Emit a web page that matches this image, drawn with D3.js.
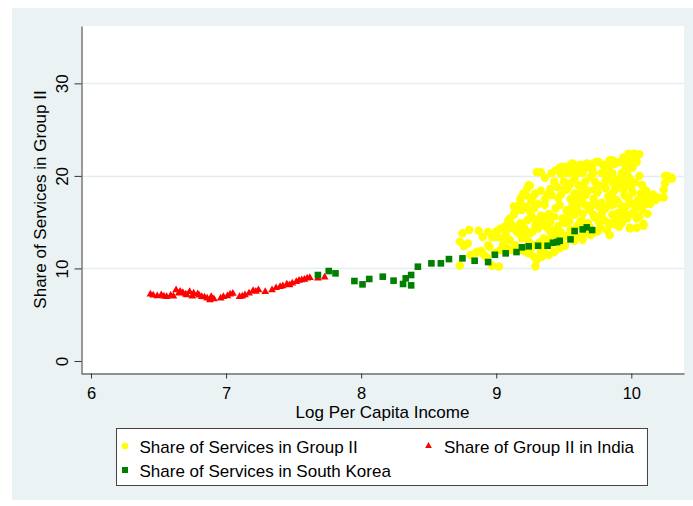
<!DOCTYPE html>
<html>
<head>
<meta charset="utf-8">
<script src="https://cdn.jsdelivr.net/npm/d3@7"></script>
<style>
  body { margin: 0; background: #fff; }
  text { font-family: "Liberation Sans", Arial, sans-serif; }
</style>
</head>
<body>
<div id="chart"></div>
<script>
// tick values
var xTicks = [6, 7, 8, 9, 10];
var yTicks = [0, 10, 20, 30];
var yGrid = [10, 20, 30];

var legendLabels = ["Share of Services in Group II", "Share of Group II in India", "Share of Services in South Korea"];

// share of services in group II : [log income, share]
var groupII = [
  [8.73,10.3],[8.73,12.9],[8.75,13.8],[8.80,14.15],[8.87,14.07],[8.76,12.4],[8.79,12.7],[8.81,11.45],
  [8.85,11.7],[8.89,11.9],[8.91,11.45],[8.90,13.4],[8.94,13.95],[8.94,12.5],[8.97,10.3],[9.02,10.2],
  [9.01,13.4],[9.03,14.3],[9.05,12.5],[9.07,13.8],[9.09,15.2],[9.13,16.7],[9.18,17.6],[9.20,18.1],
  [9.24,19.0],[9.30,20.4],[9.33,20.4],[9.36,19.8],[9.43,19.4],[9.44,20.6],[9.49,21.0],[9.52,21.0],
  [9.56,21.35],[9.62,21.2],[9.67,21.35],[9.74,21.5],[9.84,21.7],[9.91,21.5],[9.98,22.4],[10.02,22.4],
  [10.06,22.35],[10.04,21.5],[10.27,20.0],[10.30,19.7],[10.25,19.2],[10.24,18.5],[10.24,17.67],[10.20,17.67],
  [10.15,17.7],[10.10,17.8],[10.07,18.1],[10.12,17.0],[10.14,16.95],[10.12,15.9],[10.09,14.8],[10.04,14.4],
  [9.99,14.4],[10.09,14.6],[9.91,14.5],[9.84,13.6],[9.82,14.15],[9.72,13.9],[9.62,13.4],[9.51,12.45],
  [9.47,12.17],[9.43,11.8],[9.39,11.45],[9.34,11.26],[9.30,10.9],[9.29,10.2],[9.33,11.8],[9.35,12.35],
  [9.36,13.07],[9.40,12.5],[9.50,12.5],[9.49,12.7],[9.36,11.63],[9.28,11.26],
  [9.10,13.07],[9.14,12.5],[9.17,13.8],[9.21,14.33],[9.19,13.25],[9.25,13.8],[9.12,14.33],[9.08,13.25],
  [9.35,13.25],[9.39,14.15],[9.44,13.8],[9.00,13.4],[8.86,11.8],[8.95,12.35],[8.97,13.36],[9.06,14.5],
  [9.17,14.7],[9.19,14.6],
  [9.41,20.3],[9.47,20.9],[9.25,18.95],[9.23,18.65],[9.22,17.9],[9.18,17.4],[9.26,17.3],[9.17,16.85],
  [9.15,16.5],[9.14,16.1],[9.19,16.3],[9.22,16.7],[9.13,15.8],[9.10,15.4],[9.09,15.0],[9.08,14.6],
  [9.31,16.95],[9.36,17.45],[9.36,16.85],[9.41,17.9],[9.36,15.6],[9.29,15.2],[9.33,15.7],[9.23,15.2],
  [9.18,14.9],[9.29,14.7],[9.34,14.9],[9.39,15.9],[9.43,15.6],[9.44,16.5],[9.47,16.85],[9.46,17.6],
  [9.50,18.5],[9.40,15.0],[9.49,15.4],
  [9.97,21.9],[10.03,21.8],[9.99,21.27],[9.96,21.06],[9.92,21.5],[9.86,21.7],[9.84,21.06],[9.81,20.7],
  [9.76,21.5],[9.72,21.35],[9.70,21.06],[9.66,21.0],[9.61,20.9],[9.57,21.3],[9.53,20.3],[9.58,20.3],
  [9.64,20.3],[9.72,20.33],[9.78,20.3],[9.86,20.3],[9.93,20.3],[9.99,19.7],[9.96,19.4],[9.89,19.6],
  [9.81,19.55],[9.73,19.4],[9.66,19.4],[9.61,19.0],[9.55,19.2],[9.52,18.5],[9.58,18.1],[9.66,18.5],
  [9.73,18.5],[9.81,18.65],[9.88,18.5],[9.94,18.5],[10.00,18.65],[10.25,20.0],[10.30,19.8],[10.08,17.0],
  [10.04,16.7],[10.00,17.0],[9.96,16.7],[9.91,17.0],[9.86,16.85],[9.81,16.5],[9.76,16.7],[9.71,16.85],
  [9.66,16.85],[9.61,17.0],[9.56,16.7],[9.53,15.9],[9.58,15.8],[9.64,15.9],[9.72,15.8],[9.78,15.8],
  [9.86,15.8],[9.92,15.6],[9.97,15.4],[10.00,15.9],[10.04,15.4],[9.76,15.0],[9.83,14.9],[9.89,14.7],
  [9.68,14.9],[9.62,14.93],[9.99,14.3],[9.51,14.9],
  [9.52,13.5],[9.55,14.2],[9.58,13.0],[9.60,14.6],[9.63,15.2],[9.66,13.8],[9.69,14.5],[9.54,15.1],
  [9.57,16.0],[9.60,16.4],[9.63,17.3],[9.66,17.9],[9.69,16.3],[9.72,17.5],[9.75,18.2],[9.78,17.1],
  [9.80,18.9],[9.83,17.8],[9.86,18.1],[9.89,17.4],[9.92,18.9],[9.95,17.9],[9.98,19.1],[10.01,18.2],
  [9.70,19.9],[9.76,19.0],[9.83,20.0],[9.88,19.0],[9.95,20.6],[10.01,20.9],[9.58,19.7],[9.50,19.4],
  [9.55,17.5],[9.52,16.3],[9.48,18.0],[9.45,18.8],[9.40,18.6],[9.38,18.0],[9.33,18.4],[9.29,18.1],
  [9.27,17.7],[9.25,16.2],[9.28,16.5],[9.26,15.7],[9.31,14.3],[9.37,14.5],[9.42,14.1],[9.46,14.6],
  [9.48,13.9],[9.45,13.3],[9.41,13.6],[9.38,12.9],[9.32,12.8],[9.28,12.5],[9.24,12.9],[9.22,13.6],
  [9.27,14.0],[9.15,14.0],[9.11,14.8],[9.05,13.2],[9.00,14.0],[9.03,12.0],[8.99,11.7],[8.93,11.2],
  [9.08,12.2],[9.11,12.0],[9.20,11.9],[9.24,11.6],[9.26,12.2],[9.73,15.5],[9.77,14.4],[9.80,15.2],
  [9.85,14.8],[9.88,15.3],[9.93,14.9],[9.96,15.8],[10.02,16.1],[10.06,15.6],[10.08,16.4],[9.94,16.4],
  [9.90,16.0],[9.79,16.3],[9.74,16.9],[9.84,17.2],[9.98,17.5],[10.05,17.4],[10.03,19.3],[10.08,19.0],
  [10.11,18.4],[10.16,18.0],[10.18,17.4],[10.06,20.0],[9.97,20.3],[9.92,19.8],[9.86,19.3],[9.64,18.9],
  [9.61,18.1],[9.68,18.4],[9.71,20.7],[9.79,21.2],[9.88,21.3],[9.94,22.0],[9.65,20.7],[9.60,20.3],
  [9.56,20.6],[9.48,20.2],[9.54,18.9],[9.59,17.3],[9.64,13.1],[9.70,13.6],[9.75,14.0],[9.56,13.6]
];

// share of group II in India
var india = [
  [6.44,7.20],[6.46,7.10],[6.49,7.02],[6.52,7.13],[6.54,7.00],[6.56,6.95],[6.59,7.09],[6.61,7.00],
  [6.63,7.67],[6.65,7.31],[6.66,7.50],[6.68,7.38],[6.70,7.20],[6.71,7.13],[6.73,7.49],[6.75,7.00],
  [6.76,7.31],[6.79,7.24],[6.80,7.10],[6.82,6.95],[6.84,6.90],[6.86,6.77],[6.88,6.59],[6.89,6.95],
  [6.91,6.70],[6.96,6.77],[6.98,6.95],[7.01,7.02],[7.03,7.20],[7.05,7.30],[7.10,6.95],[7.12,7.00],
  [7.14,7.13],[7.17,7.31],[7.20,7.59],[7.22,7.50],[7.24,7.67],[7.29,7.49],[7.34,7.67],[7.37,7.90],
  [7.40,8.02],[7.42,8.10],[7.45,8.30],[7.47,8.21],[7.49,8.40],[7.52,8.56],[7.54,8.70],[7.56,8.75],
  [7.58,8.80],[7.60,8.93],[7.62,9.00],[7.68,8.93],[7.73,9.04]
];

// share of services in South Korea
var korea = [
  [7.68,9.29],[7.76,9.72],[7.81,9.47],[7.95,8.64],[8.01,8.28],[8.06,8.86],[8.16,9.11],[8.24,8.68],
  [8.31,8.32],[8.33,8.93],[8.37,9.29],[8.37,8.17],[8.42,10.19],[8.52,10.55],[8.59,10.55],[8.65,11.01],
  [8.75,11.09],[8.84,10.83],[8.94,10.69],[8.99,11.48],[9.07,11.63],[9.15,11.77],[9.19,12.28],[9.24,12.39],
  [9.31,12.45],[9.38,12.45],[9.42,12.78],[9.45,12.85],[9.47,12.99],[9.55,13.14],[9.58,14.04],[9.64,14.22],
  [9.67,14.44],[9.71,14.15]
];

var W = 693, H = 506;
var plot = {left: 81, right: 684, top: 26, bottom: 373};

var svg = d3.select("#chart").append("svg")
    .attr("width", W)
    .attr("height", H);

// outer background
svg.append("rect")
    .attr("x", 12).attr("y", 8)
    .attr("width", W - 12).attr("height", 492)
    .attr("fill", "#eaf2f3");

svg.append("rect")
    .attr("x", plot.left).attr("y", plot.top)
    .attr("width", plot.right - plot.left).attr("height", plot.bottom - plot.top)
    .attr("fill", "#ffffff");

var x = d3.scaleLinear().domain([5.926, 10.39]).range([plot.left, plot.right]);
var y = d3.scaleLinear().domain([-1.3, 36.2]).range([plot.bottom, plot.top]);

// gridlines
svg.append("g").selectAll("line")
    .data(yGrid)
    .enter().append("line")
    .attr("x1", plot.left).attr("x2", plot.right)
    .attr("y1", function (d) { return Math.round(y(d)) + 0.5; })
    .attr("y2", function (d) { return Math.round(y(d)) + 0.5; })
    .attr("stroke", "#e4eef0")
    .attr("stroke-width", 1.5);

// x axis
var xAxis = svg.append("g")
    .attr("transform", "translate(0," + (plot.bottom + 0.5) + ")")
    .call(d3.axisBottom(x).tickValues(xTicks).tickSize(5).tickSizeOuter(0).tickFormat(d3.format("d")));
xAxis.select(".domain").attr("stroke", "#333");
xAxis.selectAll(".tick line").attr("stroke", "#333");
xAxis.selectAll(".tick text")
    .attr("y", 25.5).attr("dy", 0)
    .attr("font-size", 16.5)
    .attr("font-family", "Liberation Sans, Arial, sans-serif")
    .attr("fill", "#000");

// y axis
var yAxis = svg.append("g")
    .attr("transform", "translate(" + (plot.left + 0.5) + ",0)")
    .call(d3.axisLeft(y).tickValues(yTicks).tickSize(7).tickSizeOuter(0).tickFormat(d3.format("d")));
yAxis.select(".domain").attr("stroke", "#333");
yAxis.selectAll(".tick line").attr("stroke", "#333");
yAxis.selectAll(".tick text")
    .attr("transform", "rotate(-90)")
    .attr("x", 0).attr("y", -14).attr("dy", 0)
    .attr("text-anchor", "middle")
    .attr("font-size", 17)
    .attr("font-family", "Liberation Sans, Arial, sans-serif")
    .attr("fill", "#000");

// axis titles
svg.append("text")
    .attr("x", (plot.left + plot.right) / 2)
    .attr("y", 418)
    .attr("text-anchor", "middle")
    .attr("font-size", 17)
    .text("Log Per Capita Income");

svg.append("text")
    .attr("transform", "translate(46," + ((plot.top + plot.bottom) / 2) + ") rotate(-90)")
    .attr("text-anchor", "middle")
    .attr("font-size", 17)
    .text("Share of Services in Group II");

var marks = svg.append("g");

var triangle = d3.symbol().type(d3.symbolTriangle).size(26);

marks.selectAll(".g2")
    .data(groupII)
    .enter().append("circle")
    .attr("class", "g2")
    .attr("cx", function (d) { return x(d[0]); })
    .attr("cy", function (d) { return y(d[1]); })
    .attr("r", 4.2)
    .attr("fill", "#ffff00");

marks.selectAll(".india")
    .data(india)
    .enter().append("path")
    .attr("class", "india")
    .attr("d", triangle)
    .attr("transform", function (d) { return "translate(" + x(d[0]) + "," + y(d[1]) + ")"; })
    .attr("fill", "#ff0000");

marks.selectAll(".korea")
    .data(korea)
    .enter().append("rect")
    .attr("class", "korea")
    .attr("x", function (d) { return x(d[0]) - 3.3; })
    .attr("y", function (d) { return y(d[1]) - 3.3; })
    .attr("width", 6.6)
    .attr("height", 6.6)
    .attr("fill", "#008000");

// legend
var legend = svg.append("g");
legend.append("rect")
    .attr("x", 116.5).attr("y", 428.5)
    .attr("width", 531).attr("height", 57)
    .attr("fill", "#fff")
    .attr("stroke", "#444")
    .attr("stroke-width", 1);

legend.append("circle").attr("cx", 125).attr("cy", 446).attr("r", 3.3).attr("fill", "#ffff00");
legend.append("path")
    .attr("d", d3.symbol().type(d3.symbolTriangle).size(20))
    .attr("transform", "translate(428.5,446)")
    .attr("fill", "#ff0000");
legend.append("rect").attr("x", 122).attr("y", 467).attr("width", 6).attr("height", 6).attr("fill", "#008000");

legend.selectAll(".ltext")
    .data([[139.5, 453], [444, 453], [139.5, 477]])
    .enter().append("text")
    .attr("class", "ltext")
    .attr("x", function (d) { return d[0]; })
    .attr("y", function (d) { return d[1]; })
    .attr("font-size", 17)
    .text(function (d, i) { return legendLabels[i]; });
</script>
</body>
</html>
